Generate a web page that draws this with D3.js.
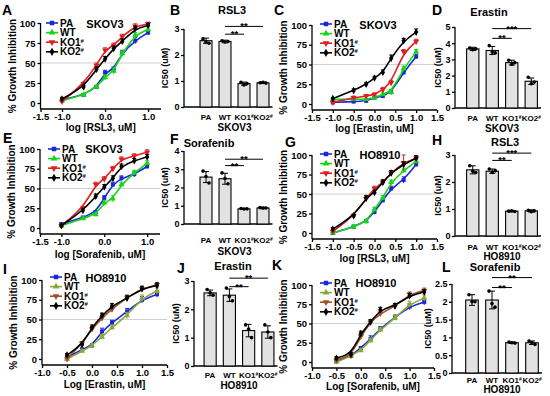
<!DOCTYPE html>
<html>
<head>
<meta charset="utf-8">
<script src="https://cdn.jsdelivr.net/npm/d3@7"></script>
<style>
body{margin:0;background:#fff}
svg{display:block}
text{font-family:Arial,"Liberation Sans",sans-serif;font-weight:bold;fill:#000}
</style>
</head>
<body>
<svg id="fig" width="550" height="396"></svg>
<script>
// ---- data ----
var lineNames = ['PA','WT','KO1#','KO2#'];
var barGroups = ['PA','WT','KO1#','KO2#'];

var xSK = [-1.0,-0.5,-0.2,0.0,0.2,0.4,0.7,1.0];   // log conc, panels A C E G
var xHO = [-0.5,-0.2,0.0,0.2,0.4,0.7,1.0,1.3];    // log conc, panels I K

// % growth inhibition, order PA, WT, KO1#, KO2#
var rsl3Skov3 = [
    [4,10,20,38,42,63,78,88],
    [3,10,20,32,40,62,85,92],
    [2,24,47,66,72,83,96,99],
    [5,20,42,55,68,77,93,97]
];
var rsl3Skov3Err = [
    [2,2,2,3,3,3,4,3],
    [2,2,2,3,4,3,3,3],
    [2,2,3,3,3,3,3,2],
    [2,2,3,3,3,3,3,2]
];
var erastinSkov3 = [
    [2,3,4,8,10,15,40,60],
    [6,6,6,8,12,15,45,66],
    [2,8,10,12,18,27,66,79],
    [7,17,25,33,40,58,80,91]
];
var erastinSkov3Err = [
    [1,1,1,2,2,3,3,3],
    [1,1,1,2,2,3,3,3],
    [1,2,2,2,3,3,3,3],
    [1,2,2,2,3,4,3,4]
];
var sorafenibSkov3 = [
    [5,13,20,38,55,63,68,78],
    [3,12,17,32,37,55,70,82],
    [3,25,55,62,75,87,91,96],
    [3,22,40,52,63,78,85,90]
];
var sorafenibSkov3Err = [
    [2,2,2,3,3,3,3,3],
    [2,2,2,3,4,3,3,3],
    [2,2,3,3,3,3,3,3],
    [2,2,3,3,3,3,3,3]
];
var rsl3Ho = [
    [0,8,15,27,42,57,68,88],
    [0,8,15,30,45,65,80,92],
    [2,22,44,57,65,77,90,96],
    [5,22,45,52,65,77,88,96]
];
var rsl3HoErr = [
    [1,2,2,3,3,3,4,3],
    [1,2,2,3,3,3,3,3],
    [1,2,3,3,3,3,10,3],
    [2,2,3,3,3,3,3,3]
];
var erastinHo = [
    [2,12,17,35,46,60,75,82],
    [0,10,17,28,40,55,77,86],
    [0,20,38,52,63,78,89,94],
    [5,18,40,55,67,77,89,93]
];
var erastinHoErr = [
    [1,2,2,4,3,4,4,4],
    [1,2,2,3,3,4,4,4],
    [1,2,3,3,3,3,3,3],
    [2,2,3,3,3,3,3,3]
];
var sorafenibHo = [
    [2,8,18,30,43,58,72,78],
    [0,8,15,28,42,57,75,83],
    [2,8,33,52,63,72,88,93],
    [5,10,37,52,68,73,86,91]
];
var sorafenibHoErr = [
    [1,2,2,4,3,3,4,4],
    [1,2,2,3,3,3,4,4],
    [1,2,3,3,3,3,3,3],
    [2,2,3,3,3,3,3,3]
];

// IC50 bars (uM), order PA, WT, KO1#, KO2#
var ic50Rsl3Skov3 = [2.55,2.52,0.90,0.93];
var ic50Rsl3Skov3Sd = [0.10,0.05,0.06,0.03];
var ic50Rsl3Skov3Pts = [[2.62,2.50,2.45],[2.55,2.50,2.52],[0.95,0.85,0.90],[0.93,0.95,0.92]];

var ic50ErastinSkov3 = [3.65,3.55,2.80,1.65];
var ic50ErastinSkov3Sd = [0.10,0.25,0.15,0.20];
var ic50ErastinSkov3Pts = [[3.70,3.60,3.65],[3.85,3.45,3.40],[2.95,2.70,2.80],[1.90,1.50,1.60]];

var ic50SorafenibSkov3 = [2.57,2.48,0.83,0.88];
var ic50SorafenibSkov3Sd = [0.30,0.30,0.03,0.04];
var ic50SorafenibSkov3Pts = [[2.90,2.60,2.25],[2.80,2.50,2.20],[0.85,0.82,0.83],[0.90,0.87,0.88]];

var ic50Rsl3Ho = [2.45,2.40,0.92,0.93];
var ic50Rsl3HoSd = [0.15,0.08,0.02,0.04];
var ic50Rsl3HoPts = [[2.60,2.40,2.35],[2.48,2.35,2.42],[0.92,0.93,0.91],[0.95,0.90,0.93]];

var ic50ErastinHo = [2.58,2.50,1.25,1.20];
var ic50ErastinHoSd = [0.10,0.22,0.22,0.22];
var ic50ErastinHoPts = [[2.70,2.58,2.50],[2.75,2.45,2.30],[1.45,1.30,1.00],[1.45,1.20,1.00]];

var ic50SorafenibHo = [2.05,2.05,0.85,0.85];
var ic50SorafenibHoSd = [0.15,0.25,0.02,0.05];
var ic50SorafenibHoPts = [[2.20,2.00,2.00],[2.30,1.95,1.85],[0.87,0.85,0.84],[0.90,0.85,0.80]];

// significance brackets: [from, to, value, stars]
var sigRsl3Skov3 = [['WT','KO1#',2.8,'**'],['WT','KO2#',3.1,'**']];
var sigErastinSkov3 = [['WT','KO1#',4.3,'**'],['WT','KO2#',4.9,'***']];
var sigSorafenibSkov3 = [['WT','KO1#',3.2,'**'],['WT','KO2#',3.55,'**']];
var sigRsl3Ho = [['WT','KO1#',2.8,'**'],['WT','KO2#',3.07,'***']];
var sigErastinHo = [['WT','KO1#',2.8,'**'],['WT','KO2#',3.1,'**']];
var sigSorafenibHo = [['WT','KO1#',2.4,'**'],['WT','KO2#',2.68,'**']];

// ---- drawing ----
var svg = d3.select('#fig');
var colSK = ['#1c28d6','#18d418','#e01e1e','#000000'];
var colHO = ['#1c28d6','#8aa83a','#a0502a','#000000'];
var symbols = [d3.symbolSquare, d3.symbolTriangle, d3.symbolTriangle, d3.symbolDiamond];
var symRot = [0,0,180,0];

function fmt1(d){ return d.toFixed(1); }

function hashText(sel, label){
    // KO1# -> KO1 with superscript #
    if(label.indexOf('#')>0){
        sel.text(label.replace('#',''));
        sel.append('tspan').attr('font-size','0.6em').attr('dy','-0.5em').text('#');
    }
    else{
        sel.text(label);
    }
}

function letter(t,x,y){
    svg.append('text').attr('x',x).attr('y',y).attr('font-size',14).text(t);
}

function drawCurve(p){
    var g = svg.append('g');
    var x = d3.scaleLinear().domain(p.xdom).range([p.x0,p.x1]);
    var y = d3.scaleLinear().domain([0,100]).range([p.y0,p.y100]);
    var yb = p.y0+6;

    g.append('line')
        .attr('x1',p.x0).attr('x2',p.x1)
        .attr('y1',y(50)).attr('y2',y(50))
        .attr('stroke','#cfcfcf').attr('stroke-width',1);

    var ya = g.append('g')
        .attr('transform','translate('+p.x0+',0)')
        .call(d3.axisLeft(y).tickValues([0,25,50,75,100]).tickSize(3).tickPadding(2));
    ya.select('.domain').remove();
    ya.selectAll('text').attr('font-size',9.5).style('font-family',null);
    ya.selectAll('line').attr('stroke-width',1.3);
    g.append('line').attr('x1',p.x0).attr('x2',p.x0).attr('y1',y(100)).attr('y2',yb)
        .attr('stroke','#000').attr('stroke-width',1.3);

    var xa = g.append('g')
        .attr('transform','translate(0,'+yb+')')
        .call(d3.axisBottom(x).tickValues(p.xticks).tickFormat(fmt1).tickSize(3).tickPadding(1));
    xa.select('.domain').remove();
    xa.selectAll('text').attr('font-size',9.5).style('font-family',null);
    xa.selectAll('line').attr('stroke-width',1.3);
    g.append('line').attr('x1',p.x0).attr('x2',p.x1).attr('y1',yb).attr('y2',yb)
        .attr('stroke','#000').attr('stroke-width',1.3);

    g.append('text')
        .attr('transform','translate('+(p.x0-25)+','+((y(100)+yb)/2)+') rotate(-90)')
        .attr('text-anchor','middle').attr('font-size',10)
        .text('% Growth Inhibition');
    g.append('text')
        .attr('x',(p.x0+p.x1)/2).attr('y',p.xtY)
        .attr('text-anchor','middle').attr('font-size',10)
        .text(p.xtitle);
    g.append('text')
        .attr('x',p.titleX).attr('y',p.titleY)
        .attr('text-anchor','middle').attr('font-size',11)
        .text(p.title);

    var line = d3.line()
        .x(function(d){ return x(d[0]); })
        .y(function(d){ return y(d[1]); })
        .curve(d3.curveBasis);

    p.data.forEach(function(vals,i){
        var c = p.colors[i];
        var pts = p.xs.map(function(v,j){ return [v, vals[j], p.err[i][j]]; });
        g.append('path').datum(pts)
            .attr('d',line).attr('fill','none')
            .attr('stroke',c).attr('stroke-width',1.6);
        var eb = g.append('g').selectAll('g').data(pts).enter().append('g');
        eb.append('line')
            .attr('x1',function(d){ return x(d[0]); })
            .attr('x2',function(d){ return x(d[0]); })
            .attr('y1',function(d){ return y(d[1]-d[2]); })
            .attr('y2',function(d){ return y(d[1]+d[2]); })
            .attr('stroke',c).attr('stroke-width',1);
        eb.append('line')
            .attr('x1',function(d){ return x(d[0])-2; })
            .attr('x2',function(d){ return x(d[0])+2; })
            .attr('y1',function(d){ return y(d[1]+d[2]); })
            .attr('y2',function(d){ return y(d[1]+d[2]); })
            .attr('stroke',c).attr('stroke-width',1);
        eb.append('path')
            .attr('d',d3.symbol().type(symbols[i]).size(16))
            .attr('transform',function(d){ return 'translate('+x(d[0])+','+y(d[1])+') rotate('+symRot[i]+')'; })
            .attr('fill',c);
    });

    // legend
    lineNames.forEach(function(n,i){
        var ly = p.legY + i*9.6;
        var c = p.colors[i];
        g.append('line').attr('x1',p.legX).attr('x2',p.legX+12).attr('y1',ly).attr('y2',ly)
            .attr('stroke',c).attr('stroke-width',1.6);
        g.append('path')
            .attr('d',d3.symbol().type(symbols[i]).size(20))
            .attr('transform','translate('+(p.legX+6)+','+ly+') rotate('+symRot[i]+')')
            .attr('fill',c);
        var t = g.append('text').attr('x',p.legX+14).attr('y',ly+3.6).attr('font-size',10);
        hashText(t,n);
    });
}

function drawBar(p){
    var g = svg.append('g');
    var x = d3.scaleBand().domain(barGroups).range(p.xr).paddingInner(0.37).paddingOuter(0.185);
    var y = d3.scaleLinear().domain([0,p.ymax]).range([p.y0,p.ytop]);
    var bw = x.bandwidth();

    var ya = g.append('g')
        .attr('transform','translate('+p.ax+',0)')
        .call(d3.axisLeft(y).tickValues(p.yticks).tickFormat(function(d){ return String(d); }).tickSize(3).tickPadding(1.5));
    ya.select('.domain').remove();
    ya.selectAll('text').attr('font-size',9).style('font-family',null);
    ya.selectAll('line').attr('stroke-width',1.3);
    g.append('line').attr('x1',p.ax).attr('x2',p.ax).attr('y1',y(p.ymax)).attr('y2',y(0))
        .attr('stroke','#000').attr('stroke-width',1.3);
    g.append('line').attr('x1',p.ax).attr('x2',p.xr[1]).attr('y1',y(0)).attr('y2',y(0))
        .attr('stroke','#000').attr('stroke-width',1.3);

    barGroups.forEach(function(k,i){
        var cx = x(k)+bw/2;
        var m = p.mean[i], s = p.sd[i];
        g.append('rect')
            .attr('x',x(k)).attr('width',bw)
            .attr('y',y(m)).attr('height',y(0)-y(m))
            .attr('fill','#e2e2e2').attr('stroke','#000').attr('stroke-width',1.1);
        g.append('line').attr('x1',cx).attr('x2',cx).attr('y1',y(m-s)).attr('y2',y(m+s))
            .attr('stroke','#000').attr('stroke-width',1);
        g.append('line').attr('x1',cx-3).attr('x2',cx+3).attr('y1',y(m+s)).attr('y2',y(m+s))
            .attr('stroke','#000').attr('stroke-width',1);
        g.append('line').attr('x1',cx-3).attr('x2',cx+3).attr('y1',y(m-s)).attr('y2',y(m-s))
            .attr('stroke','#000').attr('stroke-width',1);
        g.selectAll(null).data(p.pts[i]).enter().append('circle')
            .attr('cx',function(d,j){ return cx+(j-1)*3; })
            .attr('cy',function(d){ return y(d); })
            .attr('r',1.8).attr('fill','#000');
        var t = g.append('text').attr('x',cx).attr('y',p.labY)
            .attr('text-anchor','middle').attr('font-size',8);
        hashText(t,k);
    });

    p.sig.forEach(function(s){
        var xa = x(s[0])+bw/2, xb = x(s[1])+bw/2, yy = y(s[2]);
        g.append('line').attr('x1',xa).attr('x2',xb).attr('y1',yy).attr('y2',yy)
            .attr('stroke','#000').attr('stroke-width',1);
        g.append('text').attr('x',(xa+xb)/2).attr('y',yy+3)
            .attr('text-anchor','middle').attr('font-size',9.5).text(s[3]);
    });

    var mid = (x('PA')+x('KO2#')+bw)/2;
    g.append('text').attr('x',mid).attr('y',p.grpY)
        .attr('text-anchor','middle').attr('font-size',10).text(p.group);
    g.append('text').attr('x',p.titleX).attr('y',p.titleY)
        .attr('text-anchor','middle').attr('font-size',11).text(p.title);
    g.append('text')
        .attr('transform','translate('+p.ytX+','+((y(p.ymax)+y(0))/2)+') rotate(-90)')
        .attr('text-anchor','middle').attr('font-size',9)
        .text('IC50 (uM)');
}

var tickSK = [-1.5,-1.0,0.0,1.0];
var tickWide = [-1.5,-1.0,-0.5,0.0,0.5,1.0,1.5];
var tickHO = [-1.0,-0.5,0.0,0.5,1.0,1.5];

// row 1
drawCurve({x0:40.5,x1:161,xdom:[-1.5,1.3],y0:103,y100:23,xticks:tickSK,xs:xSK,
    data:rsl3Skov3,err:rsl3Skov3Err,colors:colSK,legX:46,legY:23,
    title:'SKOV3',titleX:105,titleY:28,xtitle:'log [RSL3, uM]',xtY:131});
drawBar({ax:184,xr:[196.5,272.5],y0:107,ytop:29,ymax:3,yticks:[0,1,2,3],
    mean:ic50Rsl3Skov3,sd:ic50Rsl3Skov3Sd,pts:ic50Rsl3Skov3Pts,sig:sigRsl3Skov3,
    labY:120,grpY:131,group:'SKOV3',title:'RSL3',titleX:232,titleY:14,ytX:168});
drawCurve({x0:312,x1:437,xdom:[-1.5,1.5],y0:104,y100:25,xticks:tickWide,xs:xSK,
    data:erastinSkov3,err:erastinSkov3Err,colors:colSK,legX:320,legY:24,
    title:'SKOV3',titleX:378,titleY:29,xtitle:'log [Erastin, uM]',xtY:132});
drawBar({ax:455,xr:[463,541],y0:108,ytop:27,ymax:5,yticks:[0,1,2,3,4,5],
    mean:ic50ErastinSkov3,sd:ic50ErastinSkov3Sd,pts:ic50ErastinSkov3Pts,sig:sigErastinSkov3,
    labY:121,grpY:132,group:'SKOV3',title:'Erastin',titleX:489,titleY:16,ytX:441});

// row 2
drawCurve({x0:40,x1:160,xdom:[-1.5,1.3],y0:228,y100:149,xticks:tickSK,xs:xSK,
    data:sorafenibSkov3,err:sorafenibSkov3Err,colors:colSK,legX:48,legY:149,
    title:'SKOV3',titleX:104,titleY:153,xtitle:'log [Sorafenib, uM]',xtY:258});
drawBar({ax:184,xr:[196.5,272.5],y0:224,ytop:151,ymax:4,yticks:[0,1,2,3,4],
    mean:ic50SorafenibSkov3,sd:ic50SorafenibSkov3Sd,pts:ic50SorafenibSkov3Pts,sig:sigSorafenibSkov3,
    labY:243,grpY:255,group:'SKOV3',title:'Sorafenib',titleX:209,titleY:147,ytX:168});
drawCurve({x0:312,x1:437,xdom:[-1.5,1.5],y0:233,y100:155,xticks:tickWide,xs:xSK,
    data:rsl3Ho,err:rsl3HoErr,colors:colSK,legX:320,legY:154,
    title:'HO8910',titleX:380,titleY:159,xtitle:'log [RSL3, uM]',xtY:262});
drawBar({ax:455,xr:[463,541],y0:236,ytop:155,ymax:3,yticks:[0,1,2,3],
    mean:ic50Rsl3Ho,sd:ic50Rsl3HoSd,pts:ic50Rsl3HoPts,sig:sigRsl3Ho,
    labY:250,grpY:260,group:'HO8910',title:'RSL3',titleX:505,titleY:146,ytX:441});

// row 3
drawCurve({x0:42,x1:167,xdom:[-1.0,1.5],y0:359,y100:280,xticks:tickHO,xs:xHO,
    data:erastinHo,err:erastinHoErr,colors:colHO,legX:50,legY:277,
    title:'HO8910',titleX:106,titleY:282,xtitle:'Log [Erastin, uM]',xtY:388});
drawBar({ax:194,xr:[200.5,277.5],y0:366,ytop:281,ymax:3,yticks:[0,1,2,3],
    mean:ic50ErastinHo,sd:ic50ErastinHoSd,pts:ic50ErastinHoPts,sig:sigErastinHo,
    labY:378,grpY:389,group:'HO8910',title:'Erastin',titleX:233,titleY:270,ytX:179});
drawCurve({x0:312,x1:434,xdom:[-1.0,1.5],y0:362,y100:285,xticks:tickHO,xs:xHO,
    data:sorafenibHo,err:sorafenibHoErr,colors:colHO,legX:320,legY:283,
    title:'HO8910',titleX:376,titleY:287,xtitle:'Log [Sorafenib, uM]',xtY:390});
drawBar({ax:452,xr:[462,542],y0:373,ytop:284,ymax:2.5,yticks:[0,0.5,1,1.5,2,2.5],
    mean:ic50SorafenibHo,sd:ic50SorafenibHoSd,pts:ic50SorafenibHoPts,sig:sigSorafenibHo,
    labY:383,grpY:393,group:'HO8910',title:'Sorafenib',titleX:495,titleY:271,ytX:431});

letter('A',2,15); letter('B',170,15); letter('C',274,15); letter('D',432,15);
letter('E',3,143); letter('F',170,144); letter('G',285,147); letter('H',432,145);
letter('I',3,274); letter('J',177,273); letter('K',272,270); letter('L',442,272);
</script>
</body>
</html>
